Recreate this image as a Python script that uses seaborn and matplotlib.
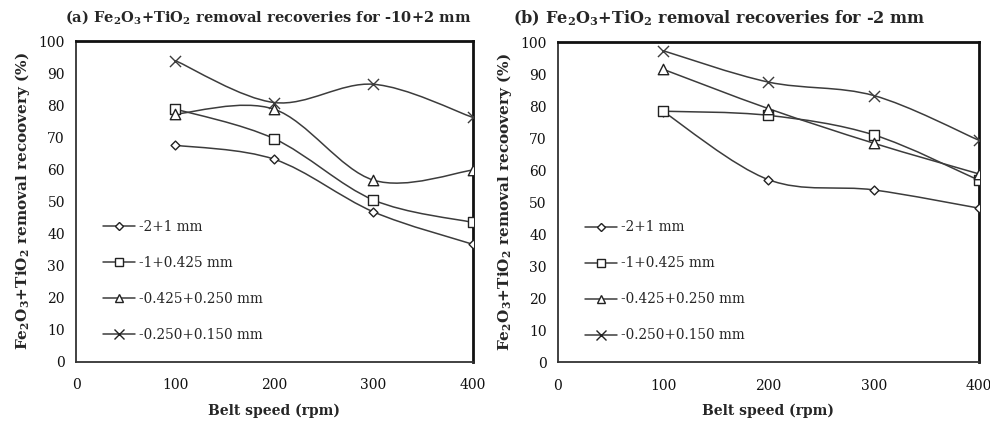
import matplotlib
matplotlib.use("Agg")
import matplotlib.pyplot as plt
from matplotlib.path import Path
from matplotlib.patches import PathPatch
from matplotlib.lines import Line2D
import seaborn as sns
import numpy as np

# Belt speed (rpm)
speeds = [100, 200, 300, 400]

# Size fractions
fractions = ["-2+1 mm", "-1+0.425 mm", "-0.425+0.250 mm", "-0.250+0.150 mm"]

# (a) -10+2 mm feed: removal recovery (%)
coarse_2_1 = [67.5, 63.1, 46.7, 36.6]
coarse_1_0425 = [78.8, 69.5, 50.4, 43.4]
coarse_0425_025 = [77.2, 78.7, 56.6, 59.7]
coarse_025_015 = [93.9, 80.8, 86.5, 76.2]

# (b) -2 mm feed: removal recovery (%)
fine_2_1 = [78.3, 57.0, 53.8, 48.1]
fine_1_0425 = [78.4, 77.1, 71.0, 56.8]
fine_0425_025 = [91.5, 79.2, 68.4, 58.8]
fine_025_015 = [97.3, 87.5, 83.3, 69.3]

panel_a = [coarse_2_1, coarse_1_0425, coarse_0425_025, coarse_025_015]
panel_b = [fine_2_1, fine_1_0425, fine_0425_025, fine_025_015]

sns.set_theme(style="white")
plt.rcParams["font.family"] = ["DejaVu Serif", "DejaVu Sans"]
plt.rcParams["mathtext.fontset"] = "custom"
plt.rcParams["mathtext.rm"] = "DejaVu Serif"
plt.rcParams["mathtext.bf"] = "DejaVu Serif:bold"

LINE = "#3c3c3c"
marker_styles = [
    dict(marker="D", ms=4.5, mfc="white"),
    dict(marker="s", ms=7.5, mfc="white"),
    dict(marker="^", ms=7.5, mfc="white"),
    dict(marker="x", ms=8, mfc="none"),
]


def smooth_path(xs, ys):
    """Cubic Bezier through the points (spreadsheet-style smoothed line)."""
    pts = np.column_stack([xs, ys]).astype(float)
    n = len(pts)
    verts = [pts[0]]
    codes = [Path.MOVETO]
    for i in range(n - 1):
        p_prev = pts[max(i - 1, 0)]
        p0 = pts[i]
        p1 = pts[i + 1]
        p_next = pts[min(i + 2, n - 1)]
        c1 = p0 + (p1 - p_prev) / 6.0
        c2 = p1 - (p_next - p0) / 6.0
        verts += [c1, c2, p1]
        codes += [Path.CURVE4] * 3
    return Path(verts, codes)


fig = plt.figure(figsize=(9.9, 4.21), dpi=100)
ax_a = fig.add_axes([0.0768, 0.1413, 0.4005, 0.7613])
ax_b = fig.add_axes([0.5636, 0.1400, 0.4253, 0.7600])

ylabel = r"Fe$_\mathbf{2}$O$_\mathbf{3}$+TiO$_\mathbf{2}$ removal recoovery (%)"

legend_anchor = {id(ax_a): (0.055, 0.46), id(ax_b): (0.052, 0.46)}

for ax, data in [(ax_a, panel_a), (ax_b, panel_b)]:
    for vals, st in zip(data, marker_styles):
        ax.add_patch(PathPatch(smooth_path(speeds, vals), fill=False,
                               edgecolor=LINE, lw=1.1, zorder=2))
        if st["marker"] == "x":
            sns.scatterplot(x=speeds, y=vals, marker="x", s=st["ms"] ** 2,
                            color=LINE, linewidth=1.0, ax=ax, zorder=3)
        else:
            sns.scatterplot(x=speeds, y=vals, marker=st["marker"],
                            s=st["ms"] ** 2, facecolor="white",
                            edgecolor="#222222", linewidth=1.0, ax=ax, zorder=3)
    ax.set_xlim(0, 400)
    ax.set_ylim(0, 100)
    ax.set_xticks([0, 100, 200, 300, 400])
    ax.set_yticks(range(0, 101, 10))
    ax.tick_params(axis="both", direction="out", length=4, width=1,
                   color="#8a8a8a", labelsize=10, labelcolor="#111111")
    ax.tick_params(axis="x", pad=8)
    ax.tick_params(axis="y", pad=4)
    for side in ["top", "right"]:
        ax.spines[side].set_linewidth(2.0)
        ax.spines[side].set_color("#111111")
    for side in ["left", "bottom"]:
        ax.spines[side].set_linewidth(1.3)
        ax.spines[side].set_color("#333333")
    ax.set_xlabel("Belt speed (rpm)", fontsize=10, fontweight="bold", labelpad=8)
    ax.set_ylabel(ylabel, fontsize=11, fontweight="bold", labelpad=5)

    handles = [Line2D([0], [0], color=LINE, lw=1.1, marker=st["marker"],
                      ms=st["ms"] * 0.85, mfc=st["mfc"], mec="#222222", mew=1.0)
               for st in marker_styles]
    ax.legend(handles, fractions, loc="upper left",
              bbox_to_anchor=legend_anchor[id(ax)],
              frameon=False, fontsize=9.8, handlelength=2.3, handletextpad=0.35,
              labelspacing=1.62, borderaxespad=0)

fig.text(0.066, 0.957,
         r"(a) Fe$_\mathbf{2}$O$_\mathbf{3}$+TiO$_\mathbf{2}$ removal recoveries for -10+2 mm",
         fontsize=10.5, fontweight="bold", ha="left", va="center")
fig.text(0.518, 0.957,
         r"(b) Fe$_\mathbf{2}$O$_\mathbf{3}$+TiO$_\mathbf{2}$ removal recoveries for -2 mm",
         fontsize=11.6, fontweight="bold", ha="left", va="center")

fig.savefig("out.png", dpi=100)
